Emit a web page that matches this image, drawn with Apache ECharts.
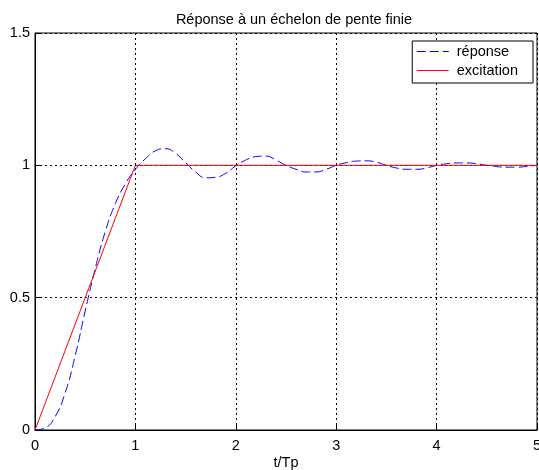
<!DOCTYPE html>
<html>
<head>
<meta charset="utf-8">
<script src="https://cdn.jsdelivr.net/npm/echarts@6/dist/echarts.min.js"></script>
<style>html,body{margin:0;padding:0;background:#fff;}#c{width:539px;height:470px;}</style>
</head>
<body>
<div id="c"></div>
<script>
var tValues = [0,0.1,0.2,0.3,0.4,0.5,0.6,0.7,0.8,0.9,1.0,1.1,1.2,1.3,1.4,1.5,1.6,1.7,1.8,1.9,2.0,2.1,2.2,2.3,2.4,2.5,2.6,2.7,2.8,2.9,3.0,3.1,3.2,3.3,3.4,3.5,3.6,3.7,3.8,3.9,4.0,4.1,4.2,4.3,4.4,4.5,4.6,4.7,4.8,4.9,5.0];
var response = [0,0.008,0.05,0.14,0.28,0.45,0.61,0.75,0.855,0.93,0.985,1.025,1.055,1.063,1.045,1.01,0.975,0.953,0.955,0.97,0.998,1.02,1.033,1.035,1.02,1.0,0.985,0.975,0.975,0.985,1.0,1.01,1.016,1.017,1.012,1.0,0.99,0.985,0.985,0.99,1.0,1.006,1.009,1.009,1.006,1.0,0.995,0.993,0.993,0.996,1.0];
var excitationT = [0,1,5];
var excitation = [0,1,1];
var xTicks = [0,1,2,3,4,5];
var yTicks = [0,0.5,1,1.5];

function pairs(xs, ys){ return xs.map(function(x,i){ return [x, ys[i]]; }); }

var font = 'Arial, "Liberation Sans", sans-serif';
var fs = 14.5;
var chart = echarts.init(document.getElementById('c'));
chart.setOption({
  animation: false,
  backgroundColor: '#fff',
  title: {
    text: 'Réponse à un échelon de pente finie',
    left: 289, top: 7, textAlign: 'center',
    textStyle: {fontFamily: font, fontSize: fs, fontWeight: 'normal', color: '#000'}
  },
  legend: {
    orient: 'vertical', right: 6, top: 41,
    backgroundColor: '#fff', borderColor: '#000', borderWidth: 1, borderRadius: 0,
    padding: [3, 15, 5, 4], itemWidth: 32, itemHeight: 14, itemGap: 4,
    itemStyle: {opacity: 0},
    lineStyle: {color: 'inherit', width: 1, type: 'inherit'},
    textStyle: {fontFamily: font, fontSize: fs, color: '#000', lineHeight: 14, padding: [0, 0, 0, 3]},
    data: ['réponse', 'excitation']
  },
  grid: {left: 35, right: 2, top: 33, bottom: 40, show: true, borderColor: '#000', borderWidth: 1, containLabel: false, outerBoundsMode: 'none'},
  xAxis: {
    type: 'value', min: xTicks[0], max: xTicks[xTicks.length-1], interval: 1,
    name: 't/Tp', nameLocation: 'middle', nameGap: 25, nameMoveOverlap: false,
    nameTextStyle: {fontFamily: font, fontSize: fs, color: '#000'},
    axisLine: {show: true, lineStyle: {color: '#000'}},
    axisTick: {show: true, inside: true, length: 5, lineStyle: {color: '#000'}},
    axisLabel: {fontFamily: font, fontSize: fs, color: '#000', margin: 8},
    splitLine: {show: true, lineStyle: {color: '#000', type: [2, 3], width: 1}}
  },
  yAxis: {
    type: 'value', min: yTicks[0], max: yTicks[yTicks.length-1], interval: 0.5,
    axisLine: {show: true, lineStyle: {color: '#000'}},
    axisTick: {show: true, inside: true, length: 5, lineStyle: {color: '#000'}},
    axisLabel: {fontFamily: font, fontSize: fs, color: '#000', margin: 5},
    splitLine: {show: true, lineStyle: {color: '#000', type: [2, 3], width: 1}}
  },
  series: [
    {
      name: 'réponse', type: 'line', smooth: true, symbol: 'none',
      data: pairs(tValues, response),
      lineStyle: {color: '#0000ff', width: 1, type: [9, 4]},
      itemStyle: {color: '#0000ff'}, z: 2
    },
    {
      name: 'excitation', type: 'line', symbol: 'none',
      data: pairs(excitationT, excitation),
      lineStyle: {color: '#ff0000', width: 1},
      itemStyle: {color: '#ff0000'}, z: 3
    }
  ]
});
</script>
</body>
</html>
